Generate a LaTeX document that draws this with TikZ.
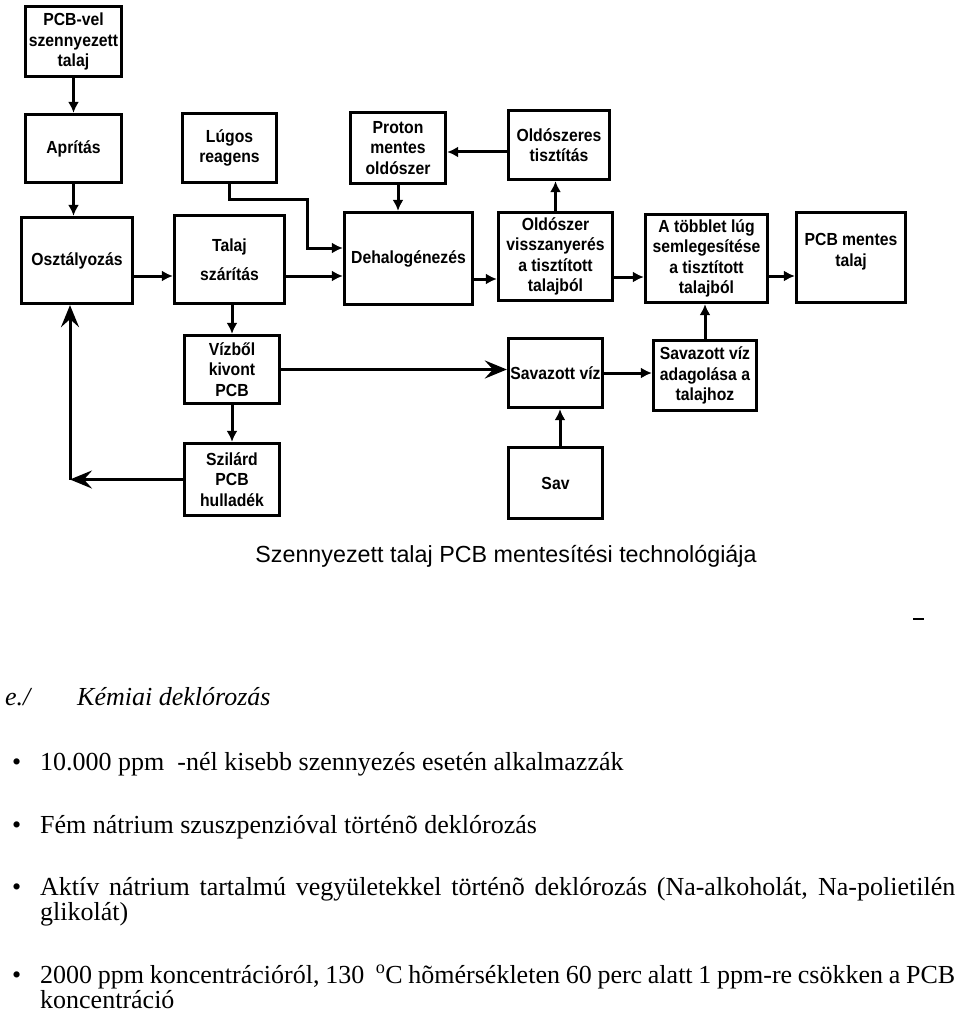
\documentclass[tikz,border=0pt]{standalone}
\usepackage{fontspec}
\setmainfont{Liberation Serif}
\newfontfamily\boxfont[FakeStretch=0.9]{Liberation Sans}
\newfontfamily\capfont{Liberation Sans}
\usepackage{tikz}
\usetikzlibrary{calc,arrows.meta}
\tikzset{>={Latex[length=11pt,width=11pt]}}
\tikzset{
  boxtxt/.style={align=center, inner sep=0pt, font=\boxfont\bfseries\fontsize{17.5}{20.5}\selectfont},
  box/.style 2 args={boxtxt, draw, line width=3.3pt, minimum width=#1, minimum height=#2},
  conn/.style={line width=3pt, ->},
  bigtip/.style={line width=3pt, -{Stealth[length=22pt,width=18pt,inset=8pt]}},
  txt/.style={anchor=base west, inner sep=0pt, font=\fontsize{26}{26}\selectfont},
}
\newcommand{\fullline}[1]{\makebox[915pt][s]{#1}}

\begin{document}
\begin{tikzpicture}[x=1pt, y=-1pt]
        \useasboundingbox (0,0) rectangle (960,1016);
        % boxes
        \node[box={96pt}{70pt}] (pcb) at (73.5,41.5) {PCB-vel\\szennyezett\\talaj};
        \node[box={96pt}{68pt}] (aprit) at (73.5,148.5) {Aprítás};
        \node[box={111pt}{86pt}] (oszt) at (77,260.5) {Osztályozás};
        \node[box={94pt}{69pt}] (lugos) at (229.5,148) {Lúgos\\reagens};
        \node[box={110pt}{88pt}] (szarit) at (229.5,259.5) {Talaj\\[9pt]szárítás};
        \node[box={95pt}{71pt}] (proton) at (398,148) {Proton\\mentes\\oldószer};
        \node[box={101pt}{69pt}] (oldtiszt) at (559,145) {Oldószeres\\tisztítás};
        \node[box={128pt}{92pt}] (dehalog) at (408.5,258.5) {Dehalogénezés};
        \node[box={114pt}{88pt}] (visszany) at (555.5,256.5) {Oldószer\\visszanyerés\\a tisztított\\talajból};
        \node[box={122pt}{88pt}] (tobblet) at (706.5,258.5) {A többlet lúg\\semlegesítése\\a tisztított\\talajból};
        \node[box={109pt}{90pt}, label={[boxtxt, yshift=6pt]center:{PCB mentes\\talaj}}] (mentes) at (851,257.5) {};
        \node[box={95pt}{68pt}] (vizbol) at (232,369.5) {Vízből\\kivont\\PCB};
        \node[box={95pt}{72pt}] (szilard) at (232,479.5) {Szilárd\\PCB\\hulladék};
        \node[box={94pt}{69pt}] (savviz) at (555.5,373) {Savazott víz};
        \node[box={103pt}{70pt}] (adagol) at (705,375.5) {Savazott víz\\adagolása a\\talajhoz};
        \node[box={94pt}{71pt}] (sav) at (555.5,483) {Sav};
        \node[font=\capfont\fontsize{23.3}{28}\selectfont] (caption) at (506,556) {Szennyezett talaj PCB mentesítési technológiája};

        % connectors
        \draw[conn] (pcb) -- (aprit);
        \draw[conn] (aprit.south) -- (aprit.south |- oszt.north);
        \draw[conn] ([yshift=-15.5pt]oszt.east) -- ([yshift=-15.5pt]oszt.east -| szarit.west);
        \draw[conn] ([yshift=-16.5pt]szarit.east) -- ([yshift=-16.5pt]szarit.east -| dehalog.west);
        \draw[conn] (lugos.south) |- (307,200) |- ([yshift=10.5pt]dehalog.west);
        \draw[conn] (proton) -- (proton |- dehalog.north);
        \draw[conn] ([yshift=-7pt]oldtiszt.west) -- ([yshift=-7pt]oldtiszt.west -| proton.east);
        \draw[conn] ([yshift=-20.5pt]dehalog.east) -- ([yshift=-20.5pt]dehalog.east -| visszany.west);
        \draw[conn] (visszany) -- (visszany |- oldtiszt.south);
        \draw[conn] ([yshift=-20.5pt]visszany.east) -- ([yshift=-20.5pt]visszany.east -| tobblet.west);
        \draw[conn] ([yshift=-17.5pt]tobblet.east) -- ([yshift=-17.5pt]tobblet.east -| mentes.west);
        \draw[conn] (szarit.south -| vizbol) -- (vizbol);
        \draw[conn] (vizbol) -- (szilard);
        \coordinate (ret) at (70,479.5);
        \draw[bigtip] (szilard.west) -- (ret);
        \draw[bigtip] (ret) -- (ret |- oszt.south);
        \draw[bigtip] (vizbol.east) -- (vizbol.east -| savviz.west);
        \draw[conn] (savviz.east) -- (savviz.east -| adagol.west);
        \draw[conn] ([xshift=4.5pt]sav.north) -- ([xshift=4.5pt]sav.north |- savviz.south);
        \draw[conn] (adagol.north) -- (adagol.north |- tobblet.south);
        \draw[line width=1.5pt] (913,619) -- (924,619);

        % text below
        \node[txt, font=\itshape\fontsize{26}{26}\selectfont] (sect) at (5,705) {e./};
        \node[txt, font=\itshape\fontsize{26}{26}\selectfont] (secttitle) at (77,705) {Kémiai deklórozás};
        \foreach \y/\name in {770/b1, 833/b2, 895/b3, 983/b4}
          \node[txt] (\name) at (12,\y) {•};
        \node[txt] (l1) at (40,770) {10.000 ppm \ -nél kisebb szennyezés esetén alkalmazzák};
        \node[txt] (l2) at (40,833) {Fém nátrium szuszpenzióval történõ deklórozás};
        \node[txt] (l3) at (40,895) {\fullline{Aktív nátrium tartalmú vegyületekkel történõ deklórozás (Na-alkoholát, Na-polietilén}};
        \node[txt] (l3b) at (40,920) {glikolát)};
        \node[txt] (l4) at (40,983) {\fullline{2000 ppm koncentrációról, 130 \ \textsuperscript{o}C hõmérsékleten 60 perc alatt 1 ppm-re csökken a PCB}};
        \node[txt] (l4b) at (40,1008) {koncentráció};
      \end{tikzpicture}
\end{document}
